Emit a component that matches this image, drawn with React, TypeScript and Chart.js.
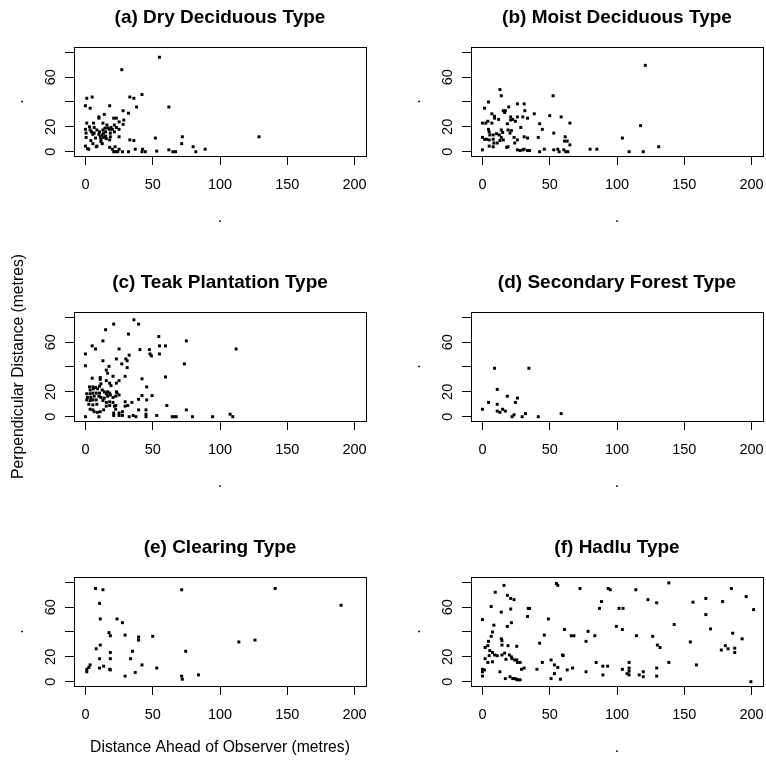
import React, { useEffect, useRef } from 'react';
import { Chart, registerables } from 'chart.js';

Chart.register(...registerables);

const FONT = "'Liberation Sans', Arial, Helvetica, sans-serif";

// ---- axis ticks ----
const X_TICKS = [0, 50, 100, 150, 200];
const Y_TICKS = [0, 20, 40, 60, 80];
const Y_LABELED = [0, 20, 60];
const X_MIN = -8.5;
const X_MAX = 208.5;
const Y_MIN = -3.45;
const Y_MAX = 84.25;

const TITLES = [
  '(a) Dry Deciduous Type',
  '(b) Moist Deciduous Type',
  '(c) Teak Plantation Type',
  '(d) Secondary Forest Type',
  '(e) Clearing Type',
  '(f) Hadlu Type',
];
const X_TITLES = ['.', '.', '.', '.', 'Distance Ahead of Observer (metres)', '.'];
const Y_TITLES = ['.', '.', 'Perpendicular Distance (metres)', '.', '.', '.'];

// ---- (a) Dry Deciduous ----
const DRY_X = [55, 27, 42, 33, 36, 1, 5, 0, 3.5, 18, 38, 62, 28, 32, 14, 10, 10, 21, 23, 28.5, 25, 1, 6, 13, 16, 21.5, 28, 0, 0.5, 0.5, 3, 3.5, 4.5, 5.5, 6.5, 6.5, 7.5, 8.5, 10, 10.5, 11, 11.5, 12.5, 13, 13.5, 13.5, 14.5, 15, 15, 15.5, 16.5, 18, 18.5, 18.5, 19, 20, 21.5, 23, 25, 25, 18, 11.5, 4, 5.5, 12.5, 8.5, 18, 20, 22, 21, 22.5, 24, 25, 27.5, 32, 33, 36, 37, 42.5, 42, 44.5, 52, 53, 62, 65, 67, 72, 71.5, 80, 89, 82, 129, 0, 1.5, 2.5, 8];
const DRY_Y = [76, 66, 46, 44, 43, 43, 44, 37, 35, 37, 36, 36, 33, 31, 30, 28, 27, 27, 27, 25.5, 24, 23, 23, 23, 21.5, 21.5, 22, 18, 15, 11.5, 20, 17.5, 16, 14, 19.5, 15, 11, 17.5, 14, 16, 12, 10, 13.5, 17.5, 15, 11.5, 19, 16, 12.5, 10.5, 19, 18, 15, 12, 19.5, 18, 16, 19.5, 18, 12, 9.5, 8, 9, 6.5, 6.5, 4.5, 3.5, 2, 4, 0, 0, 0, 2, 0, 0, 9.5, 9, 2, 2, 0, 0, 11, 0.5, 1.5, 0, 0, 12, 6.5, 4, 2, 0, 12, 4.5, 2.5, 2, 4];

// ---- (b) Moist Deciduous ----
const MOIST_X = [121, 13, 14, 52.5, 4.5, 1.5, 26, 31, 19.5, 15.5, 17, 16.5, 31.5, 38.5, 7, 9, 9, 12, 21, 22.5, 21, 26, 30, 33.5, 50, 58.5, 24.5, 0, 2.5, 4, 7, 18.5, 42.5, 65, 28.5, 44.5, 4.5, 5, 19, 21.5, 20.5, 14, 15, 5.5, 8, 10.5, 12.5, 53, 0, 1.5, 3, 5, 8, 14, 15.5, 13, 23.5, 31, 33.5, 41.5, 61.5, 61, 63, 104, 117.5, 26, 24, 5, 8, 8.5, 11, 19, 18, 65, 0, 26, 28, 30, 31, 33.5, 35, 42.5, 46, 53, 56, 57, 60.5, 62, 63.5, 80, 85, 109, 119.5, 131];
const MOIST_Y = [69.5, 50, 45, 45, 40, 35, 38.5, 38.5, 36, 33, 33, 31.5, 33, 30.5, 30.5, 28.5, 27, 26, 28, 26, 25.5, 28, 28, 27, 29, 28, 24.5, 23, 23, 24.5, 23, 22.5, 22.5, 23, 19.5, 18, 18, 16, 17.5, 17, 15, 17.5, 15.5, 13.5, 13.5, 14.5, 13.5, 15, 11.5, 10, 10, 9.5, 10, 11.5, 9.5, 9, 11.5, 12, 11, 11.5, 12, 8.5, 8.5, 11, 21, 9.5, 7, 4.5, 4, 7, 7, 4, 3.5, 5.5, 1.5, 1.5, 1, 1.5, 2, 1, 1, 0, 2, 1.5, 2, 0, 1.5, 0, 0, 2, 2, 0, 0, 4];

// ---- (c) Teak Plantation ----
const TEAK_X = [36, 21, 39.5, 15, 32, 13, 54.5, 75, 5, 7.5, 25, 40.5, 47.5, 55, 59.5, 112, 0, 32.5, 48, 49, 55, 23, 30, 31, 13, 27, 0, 17.5, 31, 73.5, 15.5, 16.5, 20.5, 5, 11, 11, 15.5, 25, 23, 29.5, 42, 59.5, 18, 19, 45.5, 11.5, 10.5, 3, 5.5, 7.5, 3.5, 6, 9, 12.5, 14, 16.5, 18, 1, 3.5, 5.5, 8, 10.5, 15.5, 18.5, 23, 23.5, 25, 1.5, 4, 6.5, 10, 11.5, 14, 16.5, 20.5, 22.5, 1, 3.5, 5.5, 8, 13, 15.5, 18, 20.5, 2.5, 5.5, 8.5, 18, 22.5, 3.5, 5.5, 6.5, 9, 11, 13.5, 15.5, 29.5, 34.5, 31.5, 29.5, 21.5, 22.5, 27.5, 25, 39.5, 42, 45.5, 49.5, 60.5, 39.5, 45, 45, 45, 75, 0, 10, 21, 21, 25, 27.5, 32.5, 35.5, 37.5, 53, 64.5, 66, 67.5, 79.5, 94.5, 107.5, 109.5];
const TEAK_Y = [78, 74.5, 74.5, 70, 66.5, 61, 64.5, 61, 57, 54.5, 54.5, 54, 54, 57, 57, 54.5, 50.5, 49.5, 50.5, 49, 50.5, 46.5, 46.5, 45, 45, 42.5, 41, 40.5, 39.5, 42.5, 37.5, 35, 32.5, 31, 31.5, 30, 29, 29, 27, 32.5, 30.5, 32, 27, 25, 24, 26.5, 24.5, 24, 24, 23.5, 21.5, 22.5, 22.5, 21.5, 20, 20, 19, 18.5, 18.5, 19, 19, 19, 18.5, 17.5, 20, 19, 17.5, 15.5, 15.5, 16.5, 16.5, 15.5, 15, 16.5, 15.5, 16.5, 13.5, 13, 13.5, 13.5, 13, 11.5, 12, 11.5, 10, 9.5, 10, 9, 9, 6, 5.5, 4, 3.5, 4, 5.5, 8.5, 12, 11.5, 9, 8.5, 8.5, 6, 4, 3, 14, 17, 13.5, 17, 9, 5.5, 5.5, 2, 0, 5.5, 0, 0, 3, 1, 1, 1, 0, 1, 0, 1, 0, 0, 0, 0, 0, 2, 0];

// ---- (d) Secondary Forest ----
const SECONDARY_X = [9, 34.5, 11, 4.5, 0, 11, 18.5, 26, 24.5, 15, 11, 17, 13, 23.5, 22, 29.5, 32, 41.5, 58.5];
const SECONDARY_Y = [39, 39, 22, 11.5, 6, 10, 16.5, 15, 11.5, 6, 4.5, 4.5, 3.5, 1.5, 0, 0, 2.5, 0, 2.5];

// ---- (e) Clearing ----
const CLEARING_X = [7.5, 13, 71.5, 141, 190, 10.5, 11, 23.5, 27.5, 17.5, 18.5, 29.5, 39.5, 39.5, 50, 114, 126, 11, 8, 18.5, 35, 74.5, 10.5, 18.5, 33.5, 42, 53, 3.5, 2.5, 1, 1, 10.5, 13.5, 18, 18.5, 29.5, 37, 71.5, 72, 84];
const CLEARING_Y = [75, 74, 74, 75, 61.5, 63, 50.5, 50.5, 47.5, 39.5, 37, 37.5, 36, 33.5, 36.5, 32, 33.5, 29.5, 26.5, 23.5, 24.5, 24.5, 18.5, 18.5, 18.5, 13.5, 11, 13.5, 11.5, 10, 8, 11, 12.5, 10, 9.5, 4.5, 7.5, 4.5, 2, 5.5];

// ---- (f) Hadlu ----
const HADLU_X = [16, 55, 56, 72.5, 93.5, 95, 114, 138.5, 185, 9.5, 18.5, 21, 23.5, 123, 129.5, 156.5, 166, 178.5, 196, 88.5, 6.5, 21, 34, 35, 87, 101.5, 104.5, 201.5, 14, 166, 33.5, 0, 49, 21.5, 8.5, 18.5, 142.5, 99.5, 104, 61, 169.5, 78.5, 66, 68, 46, 83.5, 114.5, 126.5, 186, 7.5, 6.5, 14, 14.5, 14.5, 4.5, 42.5, 77, 154.5, 193, 130, 132, 19, 25.5, 2, 4, 180.5, 177.5, 182.5, 187.5, 187.5, 5.5, 7.5, 9, 5, 11, 14.5, 16.5, 20, 21.5, 59.5, 60, 17.5, 22, 24, 25.5, 44.5, 51, 2, 4, 7.5, 26, 28, 84.5, 109, 138.5, 53.5, 56, 89.5, 93, 159, 31, 29, 40.5, 63, 67, 104, 109, 109, 129.5, 0, 1.5, 0, 13, 53.5, 77, 89.5, 107.5, 109, 116.5, 119.5, 119.5, 129.5, 0, 17, 20.5, 22.5, 24, 25.5, 28, 26, 51, 58, 199.5];
const HADLU_Y = [77.5, 79, 77.5, 75, 75, 74, 74, 79.5, 75, 72, 69.5, 67, 66, 66, 63.5, 64, 67, 64.5, 68.5, 64.5, 60.5, 58.5, 59, 59, 59, 59, 59, 58, 56, 54, 52.5, 50, 50.5, 47.5, 45.5, 44.5, 46, 44.5, 42, 42, 42.5, 40.5, 37, 37, 37.5, 37, 37, 36.5, 39, 40, 36.5, 34.5, 33, 29.5, 32.5, 31, 32.5, 32, 34.5, 29.5, 27.5, 29, 28.5, 27.5, 29, 29, 25.5, 26.5, 27, 23.5, 25, 23.5, 21.5, 21, 21, 21.5, 23, 21.5, 20, 21.5, 21, 18, 18.5, 17.5, 17.5, 15.5, 17.5, 18.5, 15.5, 16, 15.5, 15.5, 15.5, 15.5, 15.5, 13.5, 11.5, 12.5, 12.5, 13.5, 11, 10, 10, 9.5, 11, 10, 11, 8.5, 11, 10, 9.5, 8, 8, 6.5, 8, 5.5, 6.5, 5.5, 5.5, 8, 4, 4.5, 4.5, 2.5, 4, 2.5, 2.5, 2, 1.5, 1.5, 2.5, 2, 0];

const SERIES_X = [DRY_X, MOIST_X, TEAK_X, SECONDARY_X, CLEARING_X, HADLU_X];
const SERIES_Y = [DRY_Y, MOIST_Y, TEAK_Y, SECONDARY_Y, CLEARING_Y, HADLU_Y];

// ---- layout (pixels) ----
const COL_BOX_LEFT = [74, 471];
const ROW_BOX_TOP = [47, 312, 577];
const BOX_W = 292;
const BOX_H = 109;
const YW = 70;
const TH = 44;
const XH = 75;
const PR = 5;
const EXTRA = 30;
const TITLE_SIZE = 19;

const alignPx = (p: number) => Math.round(p - 0.5) + 0.5;

const boxPlugin = {
  id: 'rbox',
  afterDraw(chart: any) {
    const { ctx, chartArea: a } = chart;
    ctx.save();
    ctx.strokeStyle = '#000';
    ctx.lineWidth = 1;
    const l = alignPx(a.left);
    const r = alignPx(a.right);
    const t = alignPx(a.top);
    const b = alignPx(a.bottom);
    ctx.strokeRect(l, t, r - l, b - t);
    ctx.restore();
  },
};

function Panel({ idx }: { idx: number }) {
  const ref = useRef<HTMLCanvasElement>(null);
  const col = idx % 2;
  const row = Math.floor(idx / 2);
  const width = YW + BOX_W + PR;
  const height = EXTRA + TH + BOX_H + XH;
  const left = COL_BOX_LEFT[col] - YW;
  const top = ROW_BOX_TOP[row] - TH - EXTRA;

  useEffect(() => {
    const xs = SERIES_X[idx];
    const ys = SERIES_Y[idx];
    const tickFont = { family: FONT, size: 14.5, lineHeight: 1.2 };
    const labFont = { family: FONT, size: 15.7, lineHeight: 1.2 };
    const titleLh = TITLE_SIZE * 1.2;
    const titleTop = TH - 29 - titleLh / 2;
    const titleBottom = TH - titleLh - titleTop;
    const grid = {
      display: true,
      drawOnChartArea: false,
      drawTicks: true,
      tickLength: 9,
      color: '#000',
      lineWidth: 1,
    };
    const chart = new Chart(ref.current as HTMLCanvasElement, {
      type: 'scatter',
      data: {
        datasets: [
          {
            data: xs.map((x, i) => ({ x, y: ys[i] })),
            pointStyle: 'rect',
            pointRadius: 2.1,
            pointHoverRadius: 2.1,
            borderWidth: 0,
            backgroundColor: '#000',
          },
        ],
      },
      options: {
        responsive: false,
        animation: false,
        devicePixelRatio: 1,
        events: [],
        layout: { padding: { left: 0, right: PR, top: EXTRA, bottom: 0 } },
        plugins: {
          legend: { display: false },
          tooltip: { enabled: false },
          title: {
            display: true,
            text: TITLES[idx],
            fullSize: false,
            color: '#000',
            font: { family: FONT, size: TITLE_SIZE, weight: 'bold', lineHeight: 1.2 },
            padding: { top: titleTop, bottom: titleBottom },
          },
        },
        scales: {
          x: {
            type: 'linear',
            position: 'bottom',
            min: X_MIN,
            max: X_MAX,
            afterBuildTicks: (s: any) => {
              s.ticks = X_TICKS.map((v) => ({ value: v }));
            },
            afterFit: (s: any) => {
              s.height = XH;
              s.paddingLeft = 0;
              s.paddingRight = 0;
            },
            grid,
            border: { display: false },
            ticks: {
              autoSkip: false,
              minRotation: 0,
              maxRotation: 0,
              padding: 11.3,
              color: '#000',
              font: tickFont,
              callback: (v: any) => String(v),
            },
            title: {
              display: true,
              text: X_TITLES[idx],
              color: '#000',
              font: labFont,
              padding: { top: 0, bottom: 3.7 },
            },
          },
          y: {
            type: 'linear',
            position: 'left',
            min: Y_MIN,
            max: Y_MAX,
            afterBuildTicks: (s: any) => {
              s.ticks = Y_TICKS.map((v) => ({ value: v }));
            },
            afterFit: (s: any) => {
              s.width = YW;
              s.paddingTop = 0;
              s.paddingBottom = 0;
            },
            grid,
            border: { display: false },
            ticks: {
              autoSkip: false,
              minRotation: 90,
              maxRotation: 90,
              crossAlign: 'center',
              padding: 6.4,
              color: '#000',
              font: tickFont,
              callback: (v: any) => (Y_LABELED.includes(v) ? String(v) : ''),
            },
            title: {
              display: true,
              text: Y_TITLES[idx],
              color: '#000',
              font: labFont,
              padding: { top: 5.2, bottom: 0 },
            },
          },
        },
      } as any,
      plugins: [boxPlugin],
    });
    return () => chart.destroy();
  }, [idx]);

  return (
    <div style={{ position: 'absolute', left, top, width, height }}>
      <canvas ref={ref} width={width} height={height} style={{ display: 'block', width, height }} />
    </div>
  );
}

export default function App() {
  return (
    <div
      style={{
        position: 'absolute',
        left: 0,
        top: 0,
        width: 766,
        height: 760,
        overflow: 'hidden',
        background: '#fff',
      }}
    >
      {TITLES.map((_, i) => (
        <Panel key={i} idx={i} />
      ))}
    </div>
  );
}
